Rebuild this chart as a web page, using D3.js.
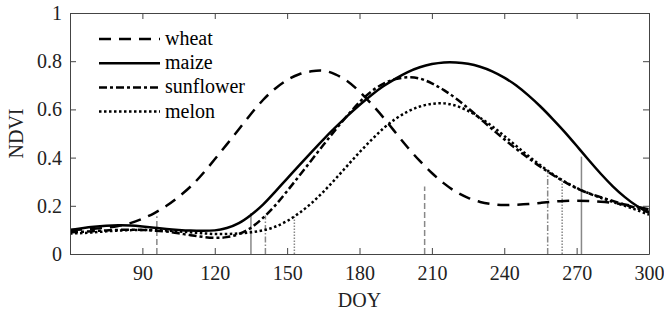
<!DOCTYPE html>
<html><head><meta charset="utf-8">
<script src="https://cdn.jsdelivr.net/npm/d3@7"></script>
<style>body{margin:0;background:#fff}svg{display:block}</style>
</head><body><svg id="c" width="664" height="314" font-family="'Liberation Serif','Times New Roman',serif"></svg>
<script>
const days = [60,65,70,75,80,85,90,95,100,105,110,115,120,125,130,135,140,145,150,155,160,165,170,175,180,185,190,195,200,205,210,215,220,225,230,235,240,245,250,255,260,265,270,275,280,285,290,295,300];
const wheat = [0.100,0.102,0.105,0.109,0.116,0.128,0.146,0.170,0.200,0.237,0.280,0.333,0.393,0.455,0.518,0.581,0.639,0.686,0.722,0.746,0.758,0.761,0.745,0.717,0.674,0.622,0.565,0.503,0.442,0.386,0.336,0.293,0.258,0.233,0.216,0.207,0.203,0.204,0.207,0.212,0.217,0.220,0.221,0.220,0.217,0.212,0.205,0.196,0.185];
const maize = [0.100,0.107,0.113,0.117,0.119,0.118,0.114,0.109,0.104,0.100,0.097,0.096,0.098,0.108,0.128,0.162,0.205,0.258,0.313,0.368,0.422,0.475,0.525,0.573,0.618,0.660,0.697,0.728,0.755,0.775,0.788,0.795,0.795,0.789,0.777,0.758,0.732,0.699,0.658,0.612,0.561,0.507,0.449,0.390,0.333,0.281,0.236,0.199,0.170];
const sunflower = [0.090,0.092,0.095,0.098,0.100,0.101,0.100,0.097,0.093,0.086,0.078,0.071,0.067,0.070,0.083,0.109,0.150,0.201,0.261,0.324,0.388,0.452,0.515,0.575,0.630,0.675,0.707,0.726,0.733,0.728,0.708,0.680,0.645,0.605,0.562,0.518,0.476,0.436,0.398,0.362,0.329,0.299,0.273,0.252,0.236,0.220,0.205,0.190,0.175];
const melon = [0.085,0.087,0.090,0.094,0.097,0.099,0.100,0.099,0.097,0.094,0.090,0.086,0.083,0.083,0.085,0.090,0.098,0.113,0.137,0.170,0.210,0.258,0.311,0.367,0.422,0.474,0.522,0.561,0.591,0.612,0.623,0.625,0.615,0.594,0.565,0.530,0.490,0.448,0.407,0.368,0.332,0.301,0.274,0.252,0.233,0.216,0.200,0.182,0.163];
const crops = ["wheat","maize","sunflower","melon"];
const markDays = [96,207,135,272,141,258,153,264];
const markVals = [0.157,0.28,0.17,0.404,0.16,0.34,0.156,0.305];
const markCrop = ["wheat","wheat","maize","maize","sunflower","sunflower","melon","melon"];
const xTicks = [90,120,150,180,210,240,270,300];
const yTicks = [0,0.2,0.4,0.6,0.8,1];

const series = {wheat, maize, sunflower, melon};
const dash = {wheat:"12,8", maize:null, sunflower:"8,3,3,3", melon:"2.5,2.5"};
const vdash = {wheat:"6,3", maize:null, sunflower:"6,2,1.5,2", melon:"1.5,1.5"};

const svg = d3.select("#c");
const L=70, R=649, T=13, B=254;
const x = d3.scaleLinear().domain([60,300]).range([L,R]);
const y = d3.scaleLinear().domain([0,1]).range([B,T]);
const font = "'Liberation Serif','Times New Roman',serif";
const axisCol = "#444";

svg.append("clipPath").attr("id","clip").append("rect").attr("x",L).attr("y",T).attr("width",R-L).attr("height",B-T);
const g = svg.append("g").attr("clip-path","url(#clip)");

markDays.forEach((d,i)=>{
  g.append("line").attr("x1",x(d)).attr("x2",x(d)).attr("y1",y(0)).attr("y2",y(markVals[i]))
   .attr("stroke","#888").attr("stroke-width",1.5)
   .attr("stroke-dasharray",vdash[markCrop[i]]);
});

const line = d3.line().x((d,i)=>x(days[i])).y(d=>y(d)).curve(d3.curveNatural);
crops.forEach(c=>{
  g.append("path").datum(series[c]).attr("d",line).attr("fill","none")
   .attr("stroke","#000").attr("stroke-width",2.5)
   .attr("stroke-dasharray",dash[c]);
});

const tl = 6;
const axB = d3.axisBottom(x).tickValues(xTicks).tickSizeInner(-tl).tickSizeOuter(0).tickPadding(12);
const axT = d3.axisTop(x).tickValues(xTicks).tickSizeInner(-tl).tickSizeOuter(0).tickFormat("");
const axL = d3.axisLeft(y).tickValues(yTicks).tickSizeInner(-tl).tickSizeOuter(0).tickPadding(8).tickFormat(d=>d3.format("~g")(d));
const axR = d3.axisRight(y).tickValues(yTicks).tickSizeInner(-tl).tickSizeOuter(0).tickFormat("");
[[axB,`translate(0,${B})`],[axT,`translate(0,${T})`],[axL,`translate(${L},0)`],[axR,`translate(${R},0)`]].forEach(([a,t])=>{
  const gg = svg.append("g").attr("transform",t).call(a).attr("font-family",font).attr("font-size",20);
  gg.selectAll("path,line").attr("stroke",axisCol).attr("stroke-width",1);
  gg.selectAll("text").attr("fill","#222");
});

svg.append("text").attr("x",(L+R)/2).attr("y",307).attr("text-anchor","middle")
  .attr("font-family",font).attr("font-size",20).attr("fill","#222").text("DOY");
svg.append("text").attr("transform",`translate(23,${(T+B)/2}) rotate(-90)`).attr("text-anchor","middle")
  .attr("font-family",font).attr("font-size",20).attr("fill","#222").text("NDVI");

crops.forEach((c,i)=>{
  const yy = 39 + i*24.2;
  svg.append("line").attr("x1",99).attr("x2",160).attr("y1",yy).attr("y2",yy)
    .attr("stroke","#000").attr("stroke-width",2.5).attr("stroke-dasharray",dash[c]);
  svg.append("text").attr("x",165).attr("y",yy+6).attr("font-family",font).attr("font-size",20)
    .attr("fill","#000").text(c);
});
</script></body></html>
